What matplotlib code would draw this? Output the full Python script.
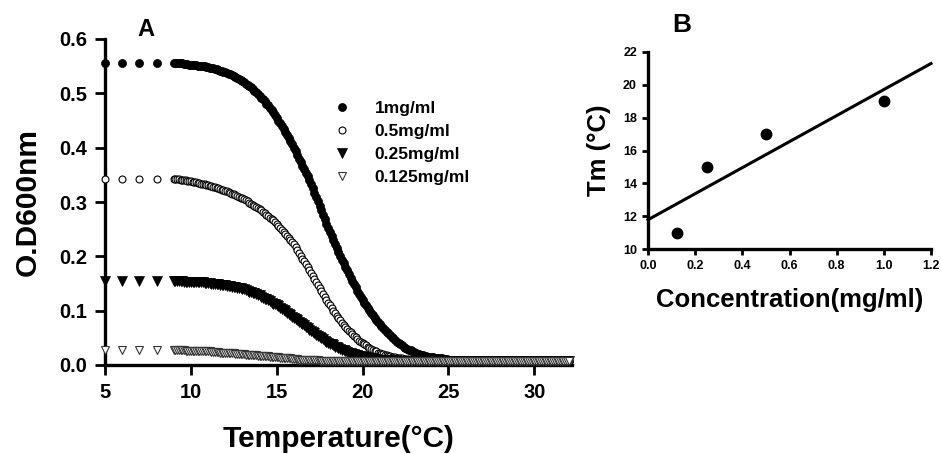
"""Turbidity melt curves (A) and Tm vs concentration (B)."""
import matplotlib; matplotlib.use('Agg')  # noqa: E702
import matplotlib.pyplot as plt
import numpy as np
from matplotlib.lines import Line2D
from matplotlib.ticker import FormatStrFormatter

plt.rcParams['font.family'] = ['Liberation Sans', 'DejaVu Sans']
plt.rcParams['font.weight'] = 'bold'

W, H = 941, 454

# ---- Panel A data -------------------------------------------------------
SERIES = ['1mg/ml', '0.5mg/ml', '0.25mg/ml', '0.125mg/ml']

temp_sparse = [5, 6, 7, 8]
od1_sparse = [0.555, 0.555, 0.555, 0.555]
od05_sparse = [0.343, 0.343, 0.343, 0.343]
od025_sparse = [0.155, 0.155, 0.155, 0.155]
od0125_sparse = [0.027, 0.027, 0.027, 0.027]

# readings every 0.1 degC from 9 to 32
temp_fine = np.arange(9.0, 32.001, 0.1)
od1 = [0.556, 0.556, 0.555, 0.555, 0.555, 0.555, 0.554, 0.554, 0.554, 0.553,
       0.553, 0.553, 0.552, 0.552, 0.551, 0.551, 0.551, 0.550, 0.550, 0.549,
       0.548, 0.547, 0.546, 0.546, 0.545, 0.544, 0.543, 0.542, 0.541, 0.540,
       0.539, 0.538, 0.536, 0.535, 0.533, 0.532, 0.530, 0.528, 0.527, 0.525,
       0.523, 0.521, 0.518, 0.516, 0.513, 0.511, 0.508, 0.505, 0.502, 0.499,
       0.496, 0.492, 0.489, 0.485, 0.481, 0.478, 0.473, 0.469, 0.465, 0.460,
       0.455, 0.450, 0.445, 0.440, 0.434, 0.429, 0.423, 0.418, 0.412, 0.406,
       0.400, 0.394, 0.387, 0.380, 0.374, 0.367, 0.360, 0.353, 0.347, 0.340,
       0.333, 0.325, 0.317, 0.309, 0.301, 0.293, 0.285, 0.276, 0.268, 0.260,
       0.252, 0.245, 0.237, 0.230, 0.222, 0.215, 0.208, 0.201, 0.194, 0.187,
       0.180, 0.174, 0.167, 0.161, 0.155, 0.149, 0.143, 0.137, 0.131, 0.126,
       0.120, 0.115, 0.110, 0.105, 0.101, 0.096, 0.092, 0.087, 0.083, 0.079,
       0.075, 0.071, 0.068, 0.065, 0.061, 0.058, 0.055, 0.052, 0.049, 0.046,
       0.043, 0.041, 0.038, 0.036, 0.034, 0.032, 0.030, 0.028, 0.027, 0.025,
       0.024, 0.023, 0.021, 0.020, 0.019, 0.018, 0.017, 0.016, 0.015, 0.015,
       0.014, 0.014, 0.013, 0.013, 0.012, 0.012, 0.012, 0.011, 0.011, 0.011,
       0.010, 0.010, 0.010, 0.010, 0.009, 0.009, 0.009, 0.009, 0.009, 0.009] + [0.008] * 61
od05 = [0.343, 0.343, 0.342, 0.342, 0.341, 0.341, 0.340, 0.340, 0.339, 0.339,
        0.338, 0.337, 0.337, 0.336, 0.335, 0.335, 0.334, 0.333, 0.333, 0.332,
        0.331, 0.330, 0.329, 0.328, 0.327, 0.326, 0.325, 0.324, 0.323, 0.322,
        0.321, 0.320, 0.318, 0.317, 0.315, 0.314, 0.313, 0.311, 0.310, 0.308,
        0.307, 0.305, 0.303, 0.301, 0.299, 0.297, 0.295, 0.293, 0.291, 0.289,
        0.287, 0.285, 0.282, 0.279, 0.276, 0.274, 0.271, 0.268, 0.266, 0.263,
        0.260, 0.256, 0.253, 0.249, 0.245, 0.242, 0.238, 0.234, 0.230, 0.226,
        0.222, 0.217, 0.212, 0.207, 0.201, 0.196, 0.191, 0.186, 0.180, 0.175,
        0.170, 0.164, 0.159, 0.153, 0.148, 0.142, 0.137, 0.131, 0.126, 0.120,
        0.115, 0.110, 0.105, 0.100, 0.096, 0.091, 0.087, 0.082, 0.078, 0.074,
        0.070, 0.066, 0.063, 0.060, 0.057, 0.054, 0.051, 0.048, 0.045, 0.043,
        0.040, 0.038, 0.036, 0.034, 0.032, 0.030, 0.028, 0.026, 0.025, 0.023,
        0.022, 0.021, 0.020, 0.019, 0.018, 0.017, 0.016, 0.015, 0.014, 0.014,
        0.013, 0.013, 0.012, 0.012, 0.011, 0.011, 0.011, 0.011, 0.010, 0.010,
        0.010, 0.010, 0.010, 0.010, 0.010, 0.009, 0.009, 0.009, 0.009, 0.009,
        0.009, 0.009, 0.009, 0.009, 0.009, 0.009, 0.009, 0.009, 0.009, 0.009] + [0.008] * 71
od025 = [0.154, 0.154, 0.154, 0.154, 0.154, 0.154, 0.153, 0.153, 0.153, 0.153,
         0.153, 0.153, 0.153, 0.152, 0.152, 0.152, 0.152, 0.152, 0.151, 0.151,
         0.151, 0.151, 0.150, 0.150, 0.149, 0.149, 0.149, 0.148, 0.148, 0.147,
         0.147, 0.146, 0.146, 0.145, 0.144, 0.144, 0.143, 0.142, 0.142, 0.141,
         0.140, 0.139, 0.138, 0.136, 0.135, 0.134, 0.133, 0.132, 0.130, 0.129,
         0.128, 0.126, 0.124, 0.122, 0.121, 0.119, 0.117, 0.115, 0.113, 0.112,
         0.110, 0.108, 0.105, 0.103, 0.101, 0.099, 0.096, 0.094, 0.092, 0.089,
         0.087, 0.085, 0.082, 0.080, 0.077, 0.075, 0.073, 0.070, 0.068, 0.065,
         0.063, 0.061, 0.059, 0.056, 0.054, 0.052, 0.050, 0.048, 0.045, 0.043,
         0.041, 0.039, 0.038, 0.036, 0.034, 0.033, 0.031, 0.030, 0.028, 0.027,
         0.025, 0.024, 0.023, 0.022, 0.021, 0.020, 0.019, 0.018, 0.017, 0.016,
         0.015, 0.014, 0.014, 0.013, 0.013, 0.012, 0.012, 0.011, 0.011, 0.010,
         0.010, 0.010, 0.010, 0.009, 0.009, 0.009, 0.009, 0.009, 0.008, 0.008,
         0.008, 0.008, 0.008, 0.008, 0.008, 0.008, 0.008, 0.008, 0.008, 0.008] + [0.007] * 91
od0125 = [0.027, 0.027, 0.027, 0.027, 0.027, 0.027, 0.027, 0.026, 0.026, 0.026,
          0.026, 0.026, 0.026, 0.026, 0.026, 0.026, 0.025, 0.025, 0.025, 0.025,
          0.025, 0.025, 0.024, 0.024, 0.024, 0.024, 0.024, 0.023, 0.023, 0.023,
          0.023, 0.023, 0.022, 0.022, 0.022, 0.022, 0.021, 0.021, 0.021, 0.020,
          0.020, 0.020, 0.019, 0.019, 0.019, 0.019, 0.018, 0.018, 0.018, 0.017,
          0.017, 0.017, 0.016, 0.016, 0.016, 0.016, 0.015, 0.015, 0.015, 0.014,
          0.014, 0.014, 0.013, 0.013, 0.013, 0.013, 0.012, 0.012, 0.012, 0.011,
          0.011, 0.011, 0.011, 0.010, 0.010, 0.010, 0.010, 0.010, 0.009, 0.009,
          0.009, 0.009, 0.009, 0.009, 0.009, 0.008, 0.008, 0.008, 0.008, 0.008,
          0.008, 0.008, 0.008, 0.008, 0.008, 0.008, 0.008, 0.008, 0.008, 0.008] + [0.007] * 131

# ---- Panel B data -------------------------------------------------------
conc = [0.125, 0.25, 0.5, 1.0]
tm = [11, 15, 17, 19]

STYLES = [
    dict(marker='o', mfc='black', mec='black', ms=5.8, mew=0.5),
    dict(marker='o', mfc='white', mec='black', ms=5.0, mew=0.8),
    dict(marker='v', mfc='black', mec='black', ms=6.8, mew=0.5),
    dict(marker='v', mfc='white', mec='#333333', ms=6.0, mew=0.8),
]


def _px_axes(fig, left, right, top, bottom):
    return fig.add_axes([left / W, 1 - bottom / H, (right - left) / W, (bottom - top) / H])


def _style(ax, labelsize, ticklen, pad):
    for s in ('top', 'right'):
        ax.spines[s].set_visible(False)
    for s in ('left', 'bottom'):
        ax.spines[s].set_linewidth(2.4)
    ax.tick_params(direction='out', length=ticklen, width=2.0, labelsize=labelsize, pad=pad)


fig = plt.figure(figsize=(W / 100, H / 100), dpi=100)

# Panel A
ax = _px_axes(fig, 105, 572, 39, 365)
sparse = [od1_sparse, od05_sparse, od025_sparse, od0125_sparse]
dense = [od1, od05, od025, od0125]
for i, (sp, dn, st) in enumerate(zip(sparse, dense, STYLES)):
    ax.plot(temp_sparse, sp, linestyle='none', clip_on=False, zorder=3 + i, **st)
    ax.plot(temp_fine, dn, linestyle='none', clip_on=False, zorder=3 + i, **st)
ax.set_xlim(5, 32.2)
ax.set_ylim(0, 0.6)
ax.set_xticks([5, 10, 15, 20, 25, 30])
ax.set_yticks(np.arange(0, 0.61, 0.1))
ax.yaxis.set_major_formatter(FormatStrFormatter('%.1f'))
_style(ax, 14.5, 7, 6)
ax.set_xlabel('Temperature(°C)', fontsize=21.5, fontweight='bold')
ax.set_ylabel('O.D600nm', fontsize=21.5, fontweight='bold')
ax.xaxis.set_label_coords(0.5, -0.185)
ax.yaxis.set_label_coords(-0.135, 0.5)
handles = [Line2D([], [], linestyle='none', **st) for st in STYLES]
ax.legend(handles, SERIES, loc='upper left', bbox_to_anchor=(333 / W, 1 - 101 / H),
          bbox_transform=fig.transFigure, frameon=False, fontsize=12.5,
          handlelength=1.0, handletextpad=1.4, labelspacing=0.45,
          borderpad=0, borderaxespad=0)
fig.text(146 / W, 1 - 29 / H, 'A', fontsize=17, fontweight='bold', ha='center', va='center')

# Panel B
bx = _px_axes(fig, 648, 931, 52, 249)
slope, intercept = np.polyfit(conc, tm, 1)
xfit = np.array([0.0, 1.2])
bx.plot(xfit, intercept + slope * xfit, color='black', lw=2.2, clip_on=False)
bx.plot(conc, tm, linestyle='none', marker='o', color='black', ms=7.5, clip_on=False)
bx.set_xlim(0, 1.2)
bx.set_ylim(10, 22)
bx.set_xticks(np.arange(0, 1.21, 0.2))
bx.set_yticks(range(10, 23, 2))
bx.xaxis.set_major_formatter(FormatStrFormatter('%.1f'))
_style(bx, 9, 4, 4)
bx.set_xlabel('Concentration(mg/ml)', fontsize=18.5, fontweight='bold')
bx.set_ylabel('Tm (°C)', fontsize=18.5, fontweight='bold')
bx.xaxis.set_label_coords(0.5, -0.2)
bx.yaxis.set_label_coords(-0.13, 0.5)
fig.text(682 / W, 1 - 25 / H, 'B', fontsize=19, fontweight='bold', ha='center', va='center')

fig.savefig('out.png', dpi=100)
plt.close(fig)
